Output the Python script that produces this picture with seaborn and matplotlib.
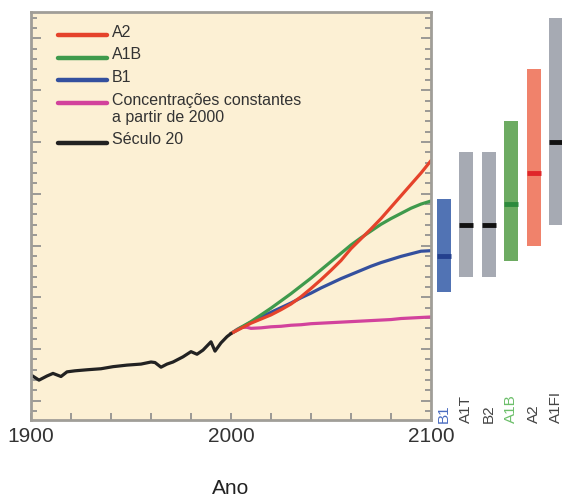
import numpy as np
import pandas as pd
import matplotlib
matplotlib.use("Agg")
import matplotlib.pyplot as plt
import matplotlib.transforms as mtransforms
from matplotlib.lines import Line2D
from matplotlib.legend_handler import HandlerLine2D
import seaborn as sns

# ---------------- data ----------------
hist_years = [1900, 1904, 1908, 1911, 1915, 1918, 1922, 1928, 1935, 1941, 1948, 1955,
              1960, 1962, 1965, 1968, 1971, 1976, 1980, 1983, 1986, 1988, 1990, 1992,
              1995, 1998, 2000]
hist_vals = [-0.50, -0.60, -0.52, -0.47, -0.53, -0.44, -0.42, -0.40, -0.38, -0.34, -0.31, -0.29,
             -0.25, -0.26, -0.35, -0.29, -0.25, -0.15, -0.05, -0.10, -0.02, 0.06, 0.14, -0.04,
             0.12, 0.24, 0.30]

proj_years = [2000, 2005, 2010, 2015, 2020, 2025, 2030, 2035, 2040, 2045, 2050,
              2055, 2060, 2065, 2070, 2075, 2080, 2085, 2090, 2095, 2100]
a2_vals = [0.30, 0.40, 0.50, 0.58, 0.66, 0.76, 0.87, 1.01, 1.17, 1.34, 1.52,
           1.71, 1.94, 2.13, 2.32, 2.52, 2.74, 2.96, 3.18, 3.40, 3.64]
a1b_vals = [0.30, 0.42, 0.53, 0.66, 0.79, 0.93, 1.07, 1.22, 1.37, 1.53, 1.69,
            1.85, 2.01, 2.15, 2.28, 2.41, 2.52, 2.62, 2.72, 2.80, 2.86]
b1_vals = [0.30, 0.41, 0.52, 0.62, 0.71, 0.80, 0.89, 0.99, 1.08, 1.18, 1.27,
           1.36, 1.44, 1.52, 1.60, 1.67, 1.73, 1.79, 1.84, 1.89, 1.90]
const_years = [2000, 2003, 2005, 2008, 2010, 2015, 2020, 2025, 2030, 2035, 2040, 2045,
               2050, 2055, 2060, 2065, 2070, 2075, 2080, 2085, 2090, 2095, 2100]
const_vals = [0.30, 0.38, 0.42, 0.42, 0.40, 0.41, 0.43, 0.44, 0.46, 0.47, 0.49, 0.50,
              0.51, 0.52, 0.53, 0.54, 0.55, 0.56, 0.57, 0.59, 0.60, 0.61, 0.62]

series_names = ["A2", "A1B", "B1", "Concentrações constantes\na partir de 2000", "Século 20"]

scen_names = ["B1", "A1T", "B2", "A1B", "A2", "A1FI"]
scen_low = [1.1, 1.4, 1.4, 1.7, 2.0, 2.4]
scen_high = [2.9, 3.8, 3.8, 4.4, 5.4, 6.4]
scen_best = [1.8, 2.4, 2.4, 2.8, 3.4, 4.0]

xtick_labels = ["1900", "2000", "2100"]

# ---------------- styles ----------------
line_colors = {series_names[0]: "#e5432b", series_names[1]: "#3f9a4c", series_names[2]: "#34509e",
               series_names[3]: "#d2429c", series_names[4]: "#222222"}
bar_colors = ["#5173b4", "#a6aab3", "#a6aab3", "#6dab62", "#f0826b", "#a6aab3"]
best_colors = ["#24408e", "#111111", "#111111", "#2c8a3c", "#e0262a", "#111111"]
label_colors = ["#4a6cc0", "#444444", "#444444", "#6cbf6a", "#444444", "#444444"]

W, H = 562, 498
fig = plt.figure(figsize=(W / 100, H / 100), dpi=100)
sns.set_style("white")
plt.rcParams["font.family"] = ["Liberation Sans", "DejaVu Sans"]

L, R, T, B = 31, 431, 12, 420
ax = fig.add_axes([L / W, 1 - B / H, (R - L) / W, (B - T) / H])
ax.set_facecolor("#fcf0d4")

df = pd.concat([
    pd.DataFrame({"Ano": proj_years, "T": a2_vals, "s": series_names[0]}),
    pd.DataFrame({"Ano": proj_years, "T": a1b_vals, "s": series_names[1]}),
    pd.DataFrame({"Ano": proj_years, "T": b1_vals, "s": series_names[2]}),
    pd.DataFrame({"Ano": const_years, "T": const_vals, "s": series_names[3]}),
    pd.DataFrame({"Ano": hist_years, "T": hist_vals, "s": series_names[4]}),
], ignore_index=True)

order_draw = [series_names[3], series_names[2], series_names[1], series_names[0], series_names[4]]
for name in order_draw:
    sub = df[df["s"] == name]
    sns.lineplot(data=sub, x="Ano", y="T", color=line_colors[name], linewidth=2.3,
                 ax=ax, legend=False, estimator=None, sort=False)

ymin, ymax = -1.37, 6.51
ax.set_xlim(1900, 2100)
ax.set_ylim(ymin, ymax)

ax.set_xticks([1900, 2000, 2100])
ax.set_xticklabels(xtick_labels)
ax.set_xticks(np.arange(1900, 2101, 20), minor=True)
ax.set_yticks(np.arange(-1, 7, 1))
ax.set_yticks(np.arange(-1.2, 6.5, 0.2), minor=True)
ax.set_yticklabels([])
ax.tick_params(axis="both", which="both", direction="in", colors="#8a8a8a", width=1.2)
ax.tick_params(axis="y", which="major", length=7, left=True, right=True)
ax.tick_params(axis="y", which="minor", length=4, left=True, right=True)
ax.tick_params(axis="x", which="both", length=5, bottom=True)
ax.tick_params(axis="x", which="major", labelsize=15, labelcolor="#333333", pad=5)
ax.set_xlabel("Ano", fontsize=15, color="#222222", labelpad=24)
ax.set_ylabel("")
for s in ax.spines.values():
    s.set_visible(True)
    s.set_color("#a09e98")
    s.set_linewidth(2)


class ShiftedLine(HandlerLine2D):
    def __init__(self, dy, **kw):
        super().__init__(**kw)
        self.dy = dy

    def create_artists(self, legend, orig_handle, xdescent, ydescent, width, height,
                       fontsize, trans):
        arts = super().create_artists(legend, orig_handle, xdescent, ydescent, width,
                                      height, fontsize, trans)
        for a in arts:
            a.set_ydata(np.asarray(a.get_ydata()) + self.dy)
        return arts


handles = [Line2D([], [], color=line_colors[n], linewidth=3.2) for n in series_names]
shifts = [-2.8, -2.8, -2.4, 4.2, -2.8]
hmap = {h: ShiftedLine(d) for h, d in zip(handles, shifts)}
leg = ax.legend(handles, series_names, loc="upper left", bbox_to_anchor=(0.067, 0.969),
                frameon=False, fontsize=11.5, handlelength=3.1, handletextpad=0.3,
                labelspacing=0.48, borderpad=0, borderaxespad=0, handler_map=hmap)
for t in leg.get_texts():
    t.set_color("#333333")
    t.set_linespacing(1.18)

# ---------------- scenario bars ----------------
bx0 = 432
ax2 = fig.add_axes([bx0 / W, 1 - B / H, (W - bx0) / W, (B - T) / H])
ax2.set_ylim(ymin, ymax)
step = 22.4
ax2.set_xlim(-(444 - bx0) / step, 5 + (W - 556) / step)
ax2.axis("off")
xs = np.arange(len(scen_names))
bw = 0.62
ax2.bar(xs, np.array(scen_high) - np.array(scen_low), bottom=scen_low, width=bw,
        color=bar_colors, linewidth=0)
ax2.hlines(scen_best, xs - bw / 2, xs + bw / 2, colors=best_colors, linewidth=3.5)
trans = mtransforms.blended_transform_factory(ax2.transData, ax2.transAxes)
for i, (name, c) in enumerate(zip(scen_names, label_colors)):
    ax2.text(i, -0.008, name, rotation=90, ha="center", va="bottom", fontsize=11,
             color=c, transform=trans)

fig.savefig("out.png", dpi=100)
